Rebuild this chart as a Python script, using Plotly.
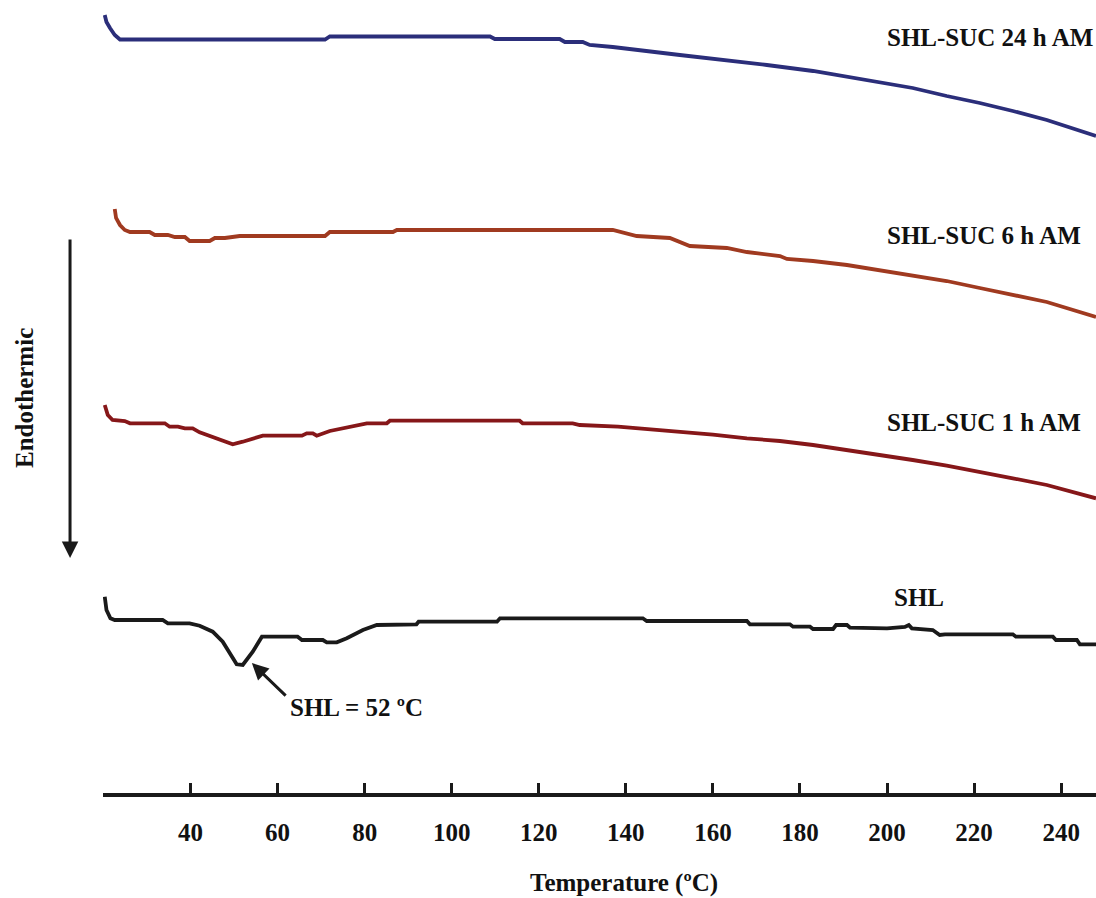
import plotly.graph_objects as go

# Temperature (°C) and heat flow (arbitrary units, curves offset)
t_24h = [20.3, 20.7, 21.5, 22.6, 23.8, 70.9, 72.0, 108.8, 109.9, 124.8, 126.0, 130.1, 131.7,
         137.0, 152.4, 163.2, 172.4, 183.0, 190.8, 198.4, 205.9, 213.7, 221.3, 228.9, 236.7, 248.0]
hf_24h = [78.5, 77.8, 77.2, 76.5, 76.05, 76.05, 76.35, 76.35, 76.1, 76.1, 75.8, 75.8, 75.5,
          75.3, 74.5, 74.0, 73.5, 72.9, 72.3, 71.8, 71.2, 70.4, 69.7, 68.9, 68.0, 66.4]

t_6h = [22.6, 22.9, 23.8, 24.9, 26.1, 30.6, 31.8, 34.8, 36.4, 38.7, 39.8, 44.4, 45.6, 47.9,
        51.3, 70.9, 72.0, 86.5, 87.4, 137.0, 142.5, 150.1, 154.7, 163.2, 167.8, 175.4, 177.0,
        183.0, 190.8, 198.4, 205.9, 213.7, 221.3, 228.9, 236.7, 248.0]
hf_6h = [59.1, 58.2, 57.5, 57.0, 56.8, 56.8, 56.5, 56.5, 56.3, 56.3, 55.9, 55.9, 56.2, 56.2,
         56.4, 56.4, 56.8, 56.8, 57.0, 57.0, 56.4, 56.2, 55.4, 55.2, 54.8, 54.4, 54.1,
         53.9, 53.5, 53.0, 52.5, 51.9, 51.2, 50.5, 49.8, 48.3]

t_1h = [20.3, 21.0, 22.1, 24.9, 26.1, 34.1, 35.2, 37.1, 38.7, 40.5, 42.1, 45.1, 47.4, 49.7,
        52.0, 54.3, 56.6, 65.6, 66.7, 68.1, 69.0, 72.0, 75.0, 78.9, 80.5, 85.1, 85.8, 115.6,
        116.3, 127.8, 129.4, 138.2, 146.2, 154.0, 160.0, 167.8, 175.4, 183.0, 190.8, 198.4,
        205.9, 213.7, 221.3, 228.9, 236.7, 248.0]
hf_1h = [39.5, 38.5, 38.0, 37.9, 37.67, 37.67, 37.33, 37.33, 37.17, 37.17, 36.77, 36.33, 35.9, 35.57,
         35.83, 36.17, 36.43, 36.43, 36.67, 36.67, 36.43, 36.9, 37.17, 37.43, 37.67, 37.67, 37.93, 37.93,
         37.67, 37.67, 37.5, 37.33, 37.07, 36.77, 36.53, 36.17, 35.9, 35.5, 35.0, 34.5,
         34.0, 33.43, 32.83, 32.17, 31.5, 30.17]

t_shl = [20.3, 20.7, 21.6, 22.6, 33.6, 34.8, 39.8, 42.1, 45.1, 47.4, 50.6, 52.0, 54.3, 56.4,
         64.6, 65.6, 70.4, 71.3, 73.6, 75.9, 79.6, 82.8, 91.9, 92.4, 110.4, 111.1, 143.9, 144.8,
         167.8, 168.5, 177.7, 178.4, 182.3, 183.0, 187.6, 188.3, 190.8, 191.5, 200.0, 204.1,
         205.0, 205.7, 210.5, 212.1, 213.3, 228.9, 229.6, 238.1, 238.8, 243.6, 244.3, 248.0]
hf_shl = [20.33, 19.0, 18.17, 18.0, 18.0, 17.67, 17.67, 17.43, 16.83, 15.83, 13.57, 13.5, 14.83, 16.33,
          16.33, 16.0, 16.0, 15.77, 15.77, 16.17, 17.0, 17.5, 17.57, 17.83, 17.83, 18.17, 18.17, 17.9,
          17.9, 17.57, 17.57, 17.33, 17.33, 17.1, 17.1, 17.5, 17.5, 17.23, 17.17, 17.3,
          17.5, 17.17, 17.0, 16.5, 16.57, 16.57, 16.33, 16.33, 16.0, 16.0, 15.57, 15.57]

tick_vals = [40, 60, 80, 100, 120, 140, 160, 180, 200, 220, 240]
tick_text = [str(v) for v in tick_vals]

series = [
    ("SHL-SUC 24 h AM", t_24h, hf_24h, "#2b2e7a"),
    ("SHL-SUC 6 h AM", t_6h, hf_6h, "#a03a20"),
    ("SHL-SUC 1 h AM", t_1h, hf_1h, "#861719"),
    ("SHL", t_shl, hf_shl, "#1a1a1a"),
]

FONT = "Liberation Serif, Times New Roman, serif"
fig = go.Figure()
for name, t, hf, col in series:
    fig.add_trace(go.Scatter(x=t, y=hf, mode="lines", name=name,
                             line=dict(color=col, width=3.8), showlegend=False))

lab_font = dict(family=FONT, size=25, color="#111111", weight="bold")
labels = [("SHL-SUC 24 h AM", 223.7, 76.3), ("SHL-SUC 6 h AM", 222.2, 56.5),
          ("SHL-SUC 1 h AM", 222.2, 37.8), ("SHL", 207.3, 20.25)]
for txt, x, y in labels:
    fig.add_annotation(x=x, y=y, text=txt, showarrow=False, font=lab_font,
                       xanchor="center", yanchor="middle")

# peak annotation
fig.add_annotation(x=78.1, y=9.25, text="SHL = 52 ºC", showarrow=False, font=lab_font,
                   xanchor="center", yanchor="middle")
fig.add_annotation(x=54.1, y=13.7, ax=62.2, ay=10.3, axref="x", ayref="y", text="",
                   showarrow=True, arrowhead=2, arrowsize=1.1, arrowwidth=3, arrowcolor="#1a1a1a")

# Endothermic arrow & label
fig.add_annotation(xref="paper", yref="paper", x=-0.0332, y=0.2963, ax=0, ay=-320,
                   text="", showarrow=True, arrowhead=2, arrowsize=1.1, arrowwidth=3,
                   arrowcolor="#1a1a1a")
fig.add_annotation(xref="paper", yref="paper", x=-0.0796, y=0.498, text="Endothermic",
                   textangle=-90, showarrow=False, font=lab_font,
                   xanchor="center", yanchor="middle")
fig.add_annotation(xref="paper", yref="paper", x=0.5247, y=-0.1135, text="Temperature (ºC)",
                   showarrow=False, font=lab_font, xanchor="center", yanchor="middle")

fig.update_layout(
    width=1096, height=898,
    margin=dict(l=103, r=0, t=0, b=105),
    paper_bgcolor="white", plot_bgcolor="white",
    xaxis=dict(range=[19.9, 248], showgrid=False, zeroline=False,
               showline=True, linecolor="#1a1a1a", linewidth=3.5,
               ticks="inside", ticklen=10, tickwidth=3, tickcolor="#1a1a1a",
               tickvals=tick_vals, ticktext=tick_text,
               tickfont=dict(family=FONT, size=25, color="#111111", weight="bold"),
               ticklabelstandoff=14),
    yaxis=dict(range=[0.7, 80], visible=False, showgrid=False, zeroline=False),
)

fig.write_html("out.html")
